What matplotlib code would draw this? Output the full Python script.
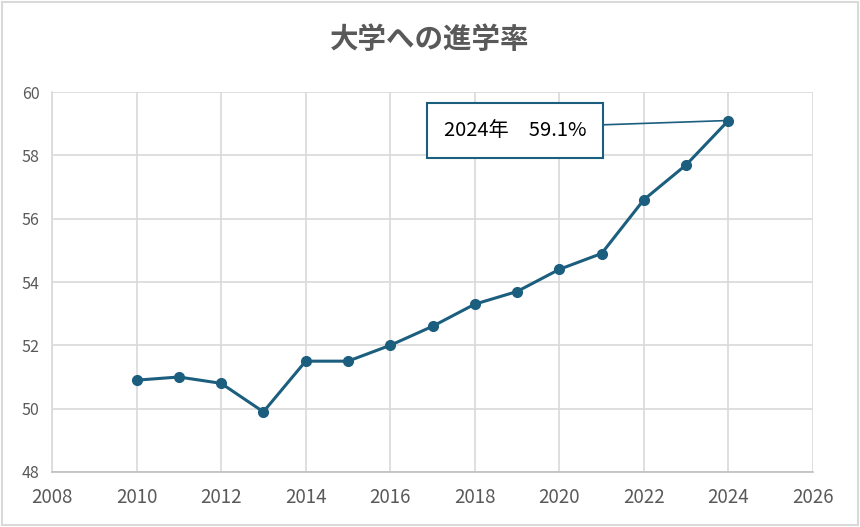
import matplotlib
matplotlib.use('Agg')
import matplotlib.pyplot as plt

plt.rcParams['font.family'] = ['Noto Sans CJK JP', 'DejaVu Sans']

# 大学への進学率 (%)
years = [2010, 2011, 2012, 2013, 2014, 2015, 2016, 2017, 2018, 2019, 2020, 2021, 2022, 2023, 2024]
rate = [50.9, 51.0, 50.8, 49.9, 51.5, 51.5, 52.0, 52.6, 53.3, 53.7, 54.4, 54.9, 56.6, 57.7, 59.1]
x_ticks = [2008, 2010, 2012, 2014, 2016, 2018, 2020, 2022, 2024, 2026]
y_ticks = [48, 50, 52, 54, 56, 58, 60]

LINE = '#1b5e7e'
GRID = '#d9d9d9'
TEXT = '#595959'

fig = plt.figure(figsize=(8.6, 5.27), dpi=100)
ax = fig.add_axes([52/860, 1 - 472/527, (813-52)/860, (472-92)/527])

ax.plot(years, rate, color=LINE, lw=2.2, marker='o', ms=7, zorder=3)

ax.set_xlim(2008, 2026)
ax.set_ylim(48, 60)
ax.set_xticks(x_ticks)
ax.set_yticks(y_ticks)
ax.tick_params(axis='x', labelsize=13.5, colors=TEXT, length=0, pad=11)
ax.tick_params(axis='y', labelsize=11.5, colors=TEXT, length=0, pad=9)
ax.grid(True, color=GRID, lw=1.2)
ax.set_axisbelow(True)
for s in ['top', 'right']:
    ax.spines[s].set_visible(False)
ax.spines['left'].set_color(GRID)
ax.spines['bottom'].set_color('#bfbfbf')
ax.spines['left'].set_linewidth(1.2)
ax.spines['bottom'].set_linewidth(1.2)

fig.text(0.5, 1 - 40/527, '大学への進学率', ha='center', va='center',
         fontsize=20.5, fontweight='bold', color=TEXT)

# 2024年のラベル
ax.annotate(f'{years[-1]}年\u3000{rate[-1]}%', xy=(years[-1], rate[-1]),
            xytext=(2018.95, 58.78), ha='center', va='center',
            fontsize=14.5, color='black',
            bbox=dict(boxstyle='square,pad=0.85', fc='white', ec=LINE, lw=1.5),
            arrowprops=dict(arrowstyle='-', color=LINE, lw=1.2,
                            relpos=(1.0, 0.75), shrinkA=0, shrinkB=4))

# 外枠
fig.patches.append(plt.Rectangle((0.002, 0.003), 0.996, 0.994, transform=fig.transFigure,
                                 fill=False, ec='#d9d9d9', lw=1.5))

fig.savefig('out.png', dpi=100)
